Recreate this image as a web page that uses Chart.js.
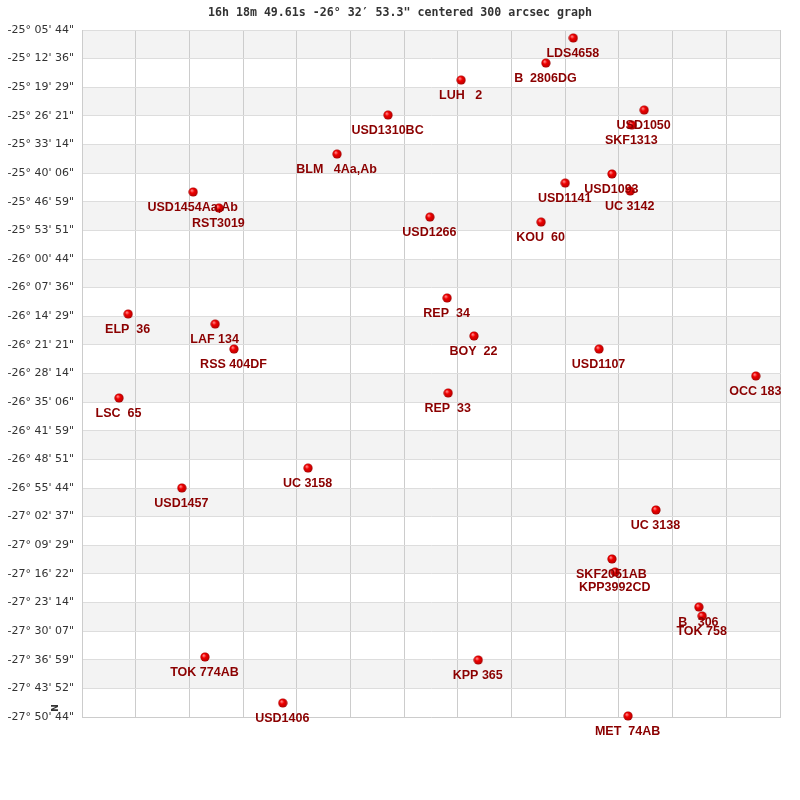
<!DOCTYPE html>
<html>
<head>
<meta charset="utf-8">
<script src="https://cdn.jsdelivr.net/npm/chart.js@4/dist/chart.umd.min.js"></script>
<style>
  html, body { margin: 0; padding: 0; background: #fff; }
  #grafico { display: block; }
</style>
</head>
<body>
<canvas id="grafico" width="800" height="800"></canvas>
<script>
    const tituloGrafico = '16h 18m 49.61s -26° 32′ 53.3" centered 300 arcsec graph';

    // declination tick labels, top to bottom
    const rotulosDec = [
      "-25° 05' 44\"", "-25° 12' 36\"", "-25° 19' 29\"", "-25° 26' 21\"", "-25° 33' 14\"",
      "-25° 40' 06\"", "-25° 46' 59\"", "-25° 53' 51\"", "-26° 00' 44\"", "-26° 07' 36\"",
      "-26° 14' 29\"", "-26° 21' 21\"", "-26° 28' 14\"", "-26° 35' 06\"", "-26° 41' 59\"",
      "-26° 48' 51\"", "-26° 55' 44\"", "-27° 02' 37\"", "-27° 09' 29\"", "-27° 16' 22\"",
      "-27° 23' 14\"", "-27° 30' 07\"", "-27° 36' 59\"", "-27° 43' 52\"", "-27° 50' 44\""
    ];

    const estrelas = [
      'LDS4658', 'B  2806DG', 'LUH   2', 'USD1310BC', 'USD1050', 'SKF1313', 'BLM   4Aa,Ab',
      'USD1093', 'USD1141', 'UC 3142', 'USD1454Aa,Ab', 'RST3019', 'USD1266', 'KOU  60',
      'ELP  36', 'LAF 134', 'RSS 404DF', 'LSC  65', 'REP  34', 'BOY  22', 'USD1107',
      'OCC 183', 'REP  33', 'USD1457', 'UC 3158', 'UC 3138', 'SKF2051AB', 'KPP3992CD',
      'B   306', 'TOK 758', 'TOK 774AB', 'USD1406', 'KPP 365', 'MET  74AB'
    ];

    // horizontal position in grid columns (0..13, east on the left)
    const posRA = [
      9.15, 8.64, 7.06, 5.70, 10.47, 10.24, 4.75,
      9.87, 9.00, 10.21, 2.07, 2.55, 6.48, 8.55,
      0.86, 2.48, 2.83, 0.69, 6.80, 7.30, 9.63,
      12.55, 6.82, 1.86, 4.21, 10.69, 9.87, 9.93,
      11.49, 11.55, 2.29, 3.74, 7.38, 10.17
    ];

    // declination in arcseconds
    const decSeg = [
      -90459, -90820, -91065, -91569, -91497, -91713, -92131,
      -92419, -92549, -92664, -92678, -92909, -93039, -93111,
      -94436, -94581, -94941, -95647, -94206, -94753, -94941,
      -95330, -95575, -96944, -96656, -97261, -97967, -98154,
      -98659, -98788, -99379, -100042, -99422, -100229
    ];

    const decMin = -100244;
    const decMax = -90344;
    const passoDec = 412.5;

    // little red ball used as point style
    function criaBolinha() {
      const c = document.createElement('canvas');
      c.width = 10; c.height = 10;
      const g = c.getContext('2d');
      const grad = g.createRadialGradient(3.6, 3.4, 0.5, 5, 5, 5);
      grad.addColorStop(0, '#ff8080');
      grad.addColorStop(0.35, '#f00000');
      grad.addColorStop(0.8, '#c00000');
      grad.addColorStop(1, '#800000');
      g.fillStyle = grad;
      g.beginPath();
      g.arc(5, 5, 4.6, 0, Math.PI * 2);
      g.fill();
      return c;
    }

    const faixas = {
      id: 'faixas',
      beforeDraw(chart) {
        const { ctx, chartArea } = chart;
        const y = chart.scales.y;
        ctx.save();
        ctx.fillStyle = '#f3f3f3';
        for (let k = 0; k < rotulosDec.length - 1; k += 2) {
          const topo = y.getPixelForValue(decMax - k * passoDec);
          const base = y.getPixelForValue(decMax - (k + 1) * passoDec);
          ctx.fillRect(chartArea.left, topo, chartArea.right - chartArea.left, base - topo);
        }
        ctx.restore();
      }
    };

    const nomes = {
      id: 'nomes',
      afterDatasetsDraw(chart) {
        const { ctx } = chart;
        const meta = chart.getDatasetMeta(0);
        ctx.save();
        ctx.beginPath();
        ctx.rect(0, 0, 781, 800);
        ctx.clip();
        ctx.font = 'bold 12.5px "Liberation Sans", Arial, sans-serif';
        ctx.fillStyle = '#8b0000';
        ctx.textAlign = 'center';
        ctx.textBaseline = 'middle';
        meta.data.forEach((pt, i) => {
          ctx.fillText(estrelas[i], pt.x - 0.5, pt.y + 16);
        });
        ctx.restore();
      },
      afterDraw(chart) {
        const { ctx } = chart;
        ctx.save();
        ctx.font = 'bold 11.6px "DejaVu Sans Mono", monospace';
        ctx.fillStyle = '#333333';
        ctx.textAlign = 'center';
        ctx.textBaseline = 'middle';
        ctx.fillText(tituloGrafico, 400, 13);
        // north marker
        ctx.translate(56, 708);
        ctx.rotate(-Math.PI / 2);
        ctx.font = 'bold 9px "DejaVu Sans", sans-serif';
        ctx.fillText('N', 0, 0);
        ctx.restore();
      }
    };

    const ctx = document.getElementById('grafico');
    new Chart(ctx, {
      type: 'scatter',
      data: {
        datasets: [{
          data: estrelas.map((n, i) => ({ x: posRA[i], y: decSeg[i] })),
          pointStyle: criaBolinha(),
          pointRadius: 5,
          clip: false
        }]
      },
      options: {
        responsive: false,
        animation: false,
        devicePixelRatio: 1,
        layout: { padding: { top: 30, right: 20, bottom: 83, left: 0 } },
        plugins: {
          legend: { display: false },
          tooltip: { enabled: false },
          title: { display: false }
        },
        scales: {
          x: {
            type: 'linear',
            min: 0,
            max: 13,
            ticks: { display: false, stepSize: 1 },
            grid: { color: '#cccccc', drawTicks: false },
            border: { color: '#cccccc' },
            afterFit: s => { s.height = 0; }
          },
          y: {
            type: 'linear',
            min: decMin,
            max: decMax,
            ticks: {
              stepSize: passoDec,
              padding: 8,
              color: '#333333',
              font: { family: '"DejaVu Sans", sans-serif', size: 11 },
              callback: (v, i) => rotulosDec[rotulosDec.length - 1 - i]
            },
            grid: { color: '#dddddd', drawTicks: false },
            border: { color: '#cccccc' },
            afterFit: s => { s.width = 82; }
          }
        }
      },
      plugins: [faixas, nomes]
    });
</script>
</body>
</html>
